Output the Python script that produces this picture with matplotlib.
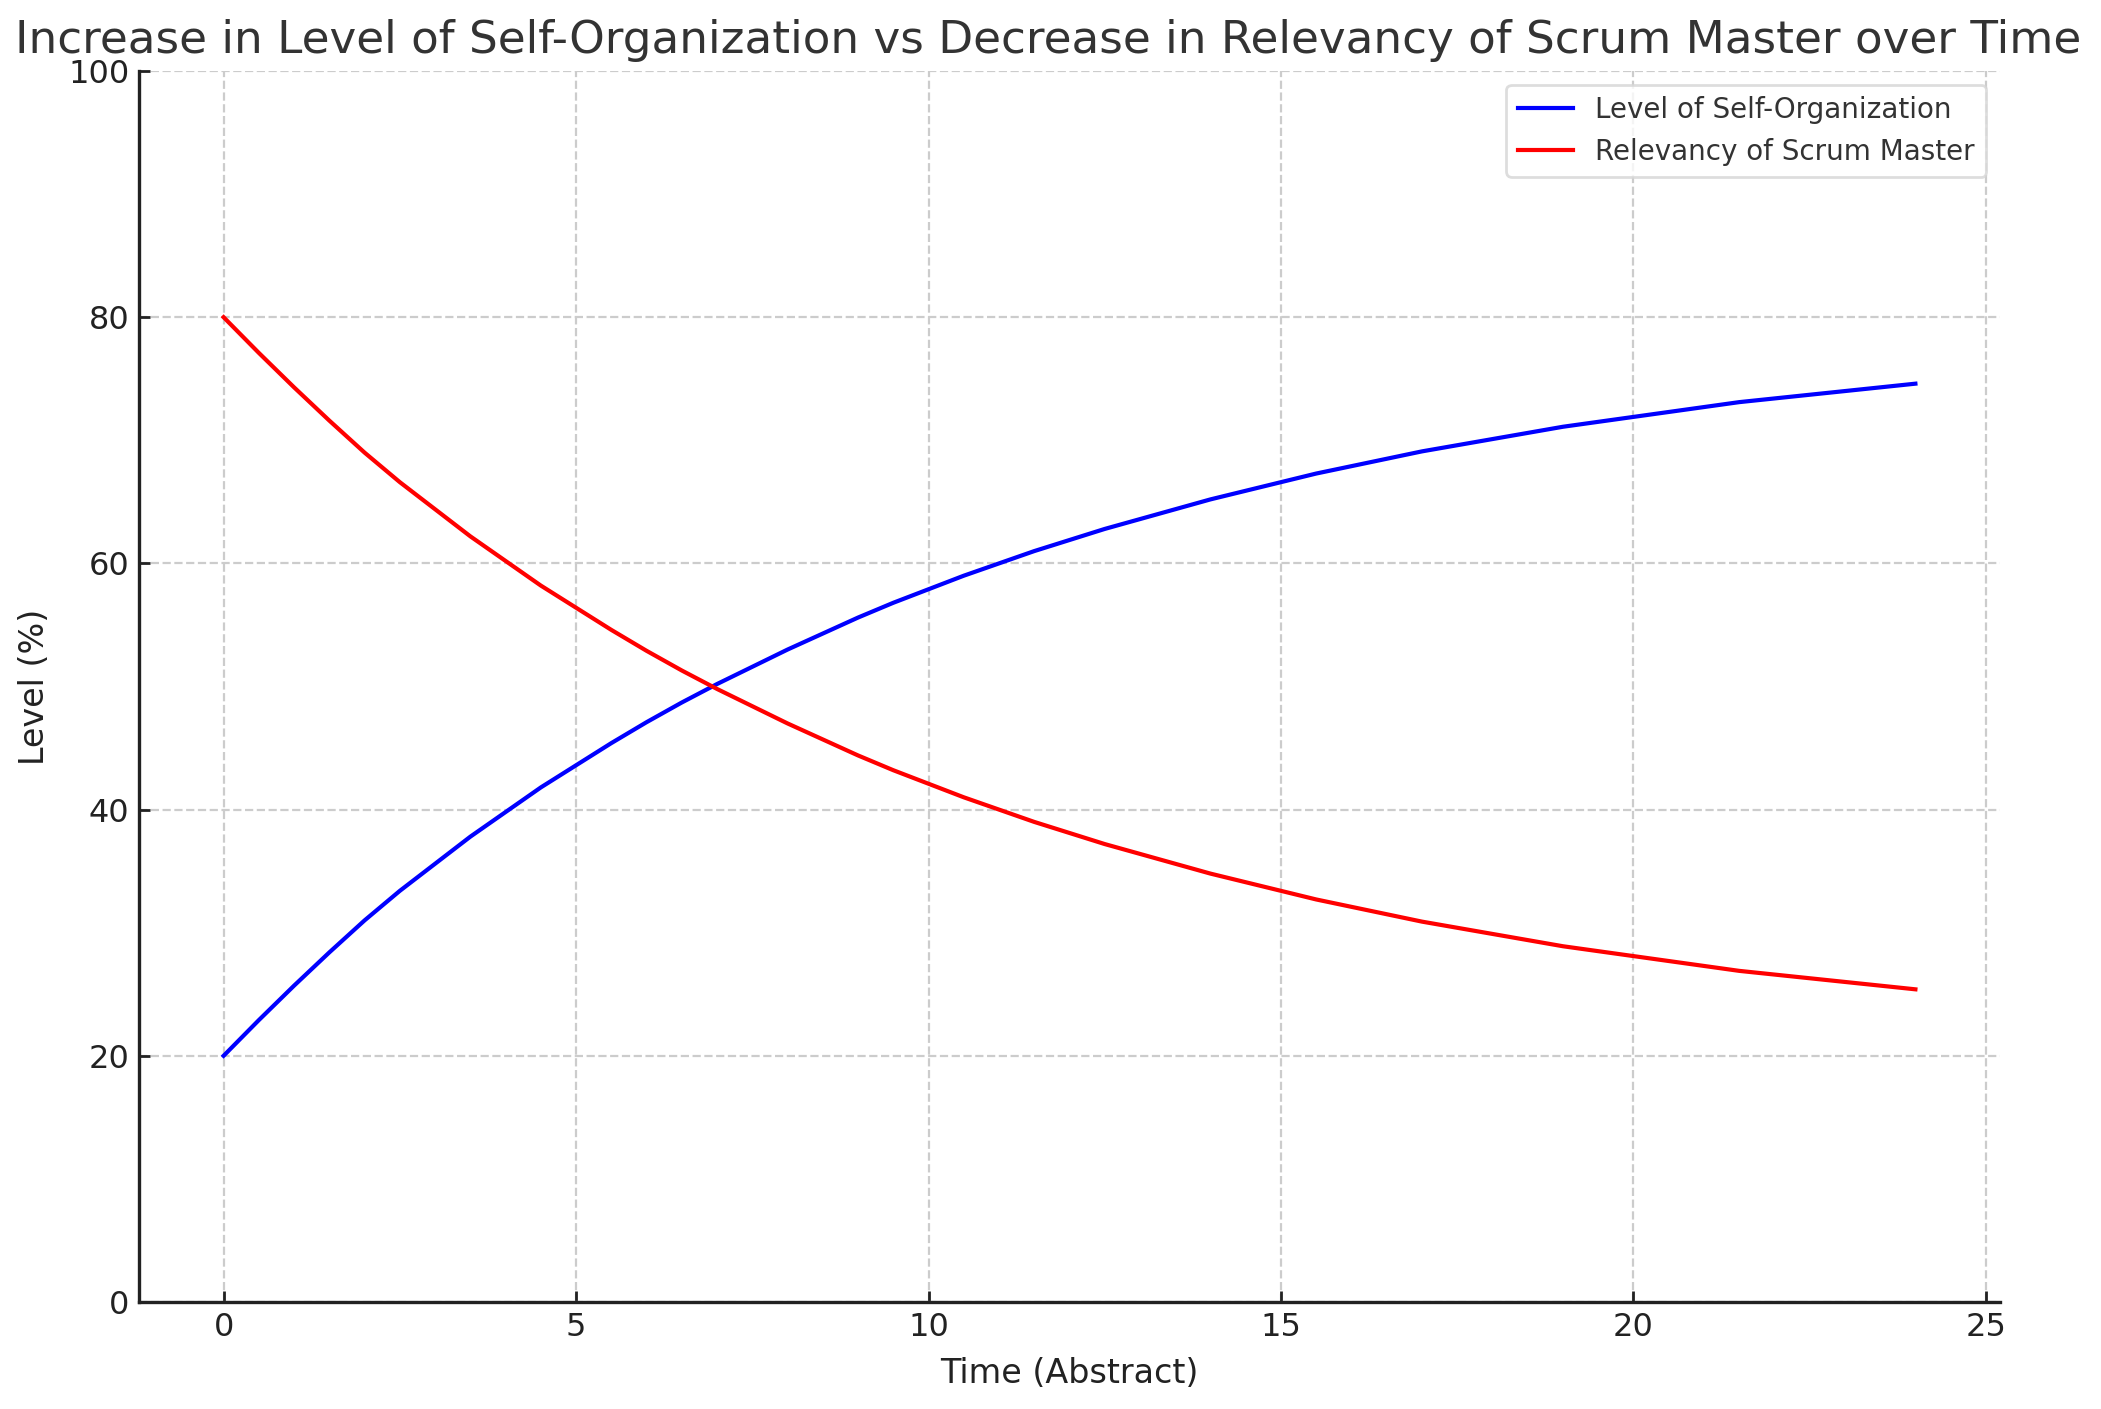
import matplotlib
matplotlib.use("Agg")
import matplotlib.pyplot as plt

time = [0, 0.5, 1, 1.5, 2, 2.5, 3, 3.5, 4, 4.5, 5, 5.5, 6, 6.5, 7, 7.5, 8, 8.5,
        9, 9.5, 10, 10.5, 11, 11.5, 12, 12.5, 13, 13.5, 14, 14.5, 15, 15.5, 16,
        16.5, 17, 17.5, 18, 18.5, 19, 19.5, 20, 20.5, 21, 21.5, 22, 22.5, 23,
        23.5, 24]
self_org = [20.0, 22.9, 25.7, 28.4, 31.0, 33.4, 35.6, 37.8, 39.8, 41.8, 43.6,
            45.4, 47.1, 48.7, 50.2, 51.6, 53.0, 54.3, 55.6, 56.8, 57.9, 59.0,
            60.0, 61.0, 61.9, 62.8, 63.6, 64.4, 65.2, 65.9, 66.6, 67.3, 67.9,
            68.5, 69.1, 69.6, 70.1, 70.6, 71.1, 71.5, 71.9, 72.3, 72.7, 73.1,
            73.4, 73.7, 74.0, 74.3, 74.6]
relevancy = [80.0, 77.1, 74.3, 71.6, 69.0, 66.6, 64.4, 62.2, 60.2, 58.2, 56.4,
             54.6, 52.9, 51.3, 49.8, 48.4, 47.0, 45.7, 44.4, 43.2, 42.1, 41.0,
             40.0, 39.0, 38.1, 37.2, 36.4, 35.6, 34.8, 34.1, 33.4, 32.7, 32.1,
             31.5, 30.9, 30.4, 29.9, 29.4, 28.9, 28.5, 28.1, 27.7, 27.3, 26.9,
             26.6, 26.3, 26.0, 25.7, 25.4]
labels = ["Level of Self-Organization", "Relevancy of Scrum Master"]
title = "Increase in Level of Self-Organization vs Decrease in Relevancy of Scrum Master over Time"

plt.rcParams['font.family'] = ['DejaVu Sans']
W, H = 2101, 1409
fig = plt.figure(figsize=(W / 200, H / 200), dpi=200)
ax = fig.add_axes([139 / W, 107 / H, 1861 / W, 1231 / H])

ax.plot(time, self_org, color="blue", lw=1.5, label=labels[0])
ax.plot(time, relevancy, color="red", lw=1.5, label=labels[1])

ax.set_ylim(0, 100)
ax.set_xlim(-1.2, 25.2)
ax.set_xticks([0, 5, 10, 15, 20, 25])
ax.set_yticks([0, 20, 40, 60, 80, 100])
ax.grid(True, linestyle="--", color="#cccccc", linewidth=0.8)
ax.set_axisbelow(True)
for s in ["top", "right"]:
    ax.spines[s].set_visible(False)
for s in ["left", "bottom"]:
    ax.spines[s].set_linewidth(1.2)
    ax.spines[s].set_color("#222222")
ax.tick_params(direction="in", length=4, width=1, labelsize=11.5, colors="#222222",
               pad=3.5)
ax.set_xlabel("Time (Abstract)", fontsize=12, color="#222222", labelpad=5)
ax.set_ylabel("Level (%)", fontsize=12, color="#222222", labelpad=6)

leg = ax.legend(loc="upper right", fontsize=10, frameon=True, fancybox=True)
leg.get_frame().set_edgecolor("#d5d5d5")
for t in leg.get_texts():
    t.set_color("#333333")

fig.text(1048 / W, 1 - 53 / H, title, ha="center", va="baseline", fontsize=16.3,
         color="#333333")

fig.savefig("out.png", dpi=200)
